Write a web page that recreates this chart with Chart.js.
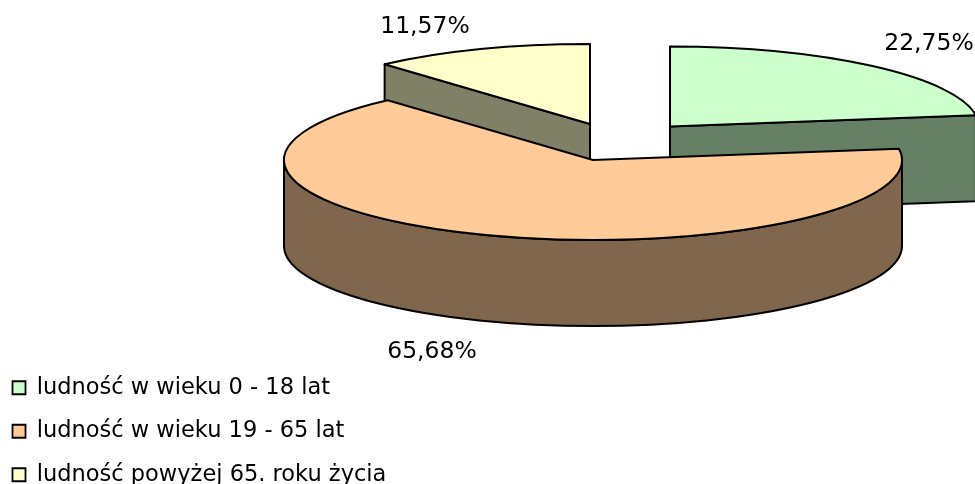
<!DOCTYPE html>
<html>
<head>
<meta charset="utf-8">
<style>
html,body{margin:0;padding:0;background:#fff;overflow:hidden}
#wrap{width:975px;height:484px;position:relative}
</style>
<script src="https://cdn.jsdelivr.net/npm/chart.js@4/dist/chart.umd.min.js"></script>
</head>
<body>
<div id="wrap"><canvas id="chart" width="975" height="484"></canvas></div>
<script>
const categories = ['ludność w wieku 0 - 18 lat', 'ludność w wieku 19 - 65 lat', 'ludność powyżej 65. roku życia'];
const shares = [22.75, 65.68, 11.57];
const colors = ['#CCFFCC', '#FFCC99', '#FFFFCC'];
const wallColors = ['#668066', '#80664D', '#808066'];

// layout of the flattened pie, one entry per slice
const centersX = [670, 593, 590];
const centersY = [126.5, 160, 124];
const labelX = [929, 432, 425];
const labelY = [44, 352, 27];
const drawOrder = [0, 2, 1];
const radiusX = 309, radiusY = 80, depth = 86;
const font = '"DejaVu Sans", sans-serif';

function wallPath(ctx, cx, cy, a, b) {
  ctx.beginPath();
  ctx.ellipse(cx, cy, radiusX, radiusY, 0, a, b);
  ctx.ellipse(cx, cy + depth, radiusX, radiusY, 0, b, a, true);
  ctx.closePath();
}
function facePath(ctx, cx, cy, t) {
  const x = cx + radiusX * Math.cos(t), y = cy + radiusY * Math.sin(t);
  ctx.beginPath();
  ctx.moveTo(cx, cy);
  ctx.lineTo(x, y);
  ctx.lineTo(x, y + depth);
  ctx.lineTo(cx, cy + depth);
  ctx.closePath();
}

const flatPie = {
  id: 'flatPie',
  beforeDatasetsDraw(chart) {
    const ctx = chart.ctx;
    const arcs = chart.getDatasetMeta(0).data;
    ctx.save();
    ctx.strokeStyle = '#000';
    ctx.lineWidth = 2;
    ctx.lineJoin = 'round';
    drawOrder.forEach(i => {
      const cx = centersX[i], cy = centersY[i];
      const a = arcs[i].startAngle, b = arcs[i].endAngle;
      ctx.fillStyle = wallColors[i];
      // straight cut faces that look toward the viewer
      if (Math.cos(a) < -1e-6) { facePath(ctx, cx, cy, a); ctx.fill(); ctx.stroke(); }
      if (Math.cos(b) > 1e-6) { facePath(ctx, cx, cy, b); ctx.fill(); ctx.stroke(); }
      // rim, only the front half of the ellipse shows
      const from = Math.max(a, 0), to = Math.min(b, Math.PI);
      if (to > from) { wallPath(ctx, cx, cy, from, to); ctx.fill(); ctx.stroke(); }
      // top
      ctx.fillStyle = colors[i];
      ctx.beginPath();
      ctx.moveTo(cx, cy);
      ctx.ellipse(cx, cy, radiusX, radiusY, 0, a, b);
      ctx.closePath();
      ctx.fill();
      ctx.stroke();
    });
    ctx.fillStyle = '#000';
    ctx.font = '23.5px ' + font;
    ctx.textAlign = 'center';
    ctx.textBaseline = 'middle';
    shares.forEach((v, i) => ctx.fillText(v.toFixed(2).replace('.', ',') + '%', labelX[i], labelY[i]));
    ctx.restore();
    return false;
  },
  beforeDatasetDraw() { return false; }
};

new Chart(document.getElementById('chart'), {
  type: 'pie',
  data: {
    labels: categories,
    datasets: [{ data: shares, backgroundColor: colors, borderColor: '#000', borderWidth: 1.8 }]
  },
  options: {
    responsive: false,
    animation: false,
    layout: { padding: { left: -8.5, bottom: -23 } },
    plugins: {
      tooltip: { enabled: false },
      legend: {
        position: 'left',
        align: 'end',
        labels: {
          color: '#000',
          font: { family: font, size: 22.5 },
          boxWidth: 13,
          boxHeight: 13,
          padding: 21
        }
      }
    }
  },
  plugins: [flatPie]
});
</script>
</body>
</html>
